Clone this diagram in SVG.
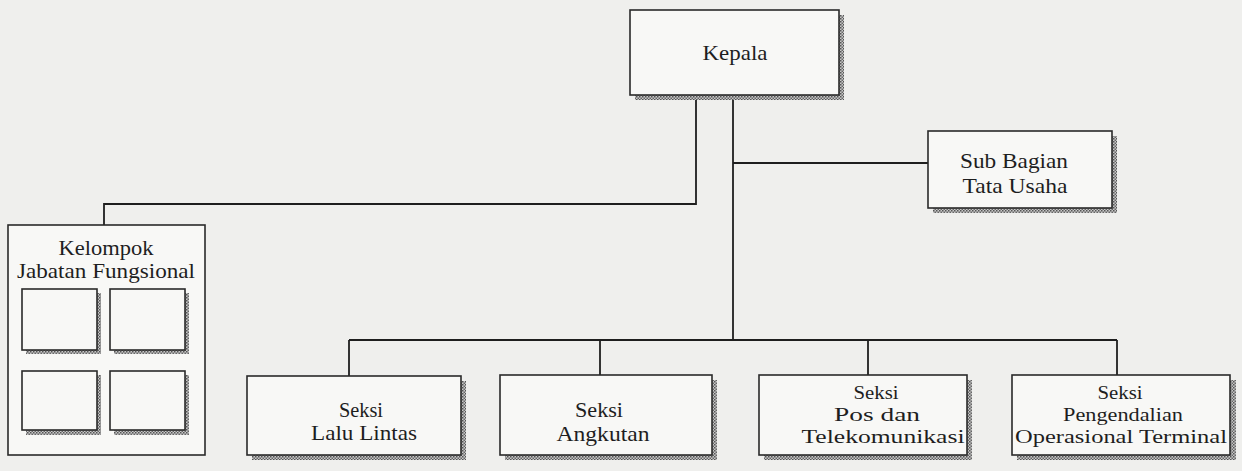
<svg xmlns="http://www.w3.org/2000/svg" width="1242" height="471" viewBox="0 0 1242 471">
<style>
.box{fill:#f8f8f6;stroke:#2a2a2a;stroke-width:1.6}
.sh{fill:url(#hatch)}
.t{font-family:"Liberation Serif","Times New Roman",serif;font-size:22px;fill:#1e1e1e;text-anchor:middle}
.t3{font-size:18px}
.c{fill:none;stroke:#1e1e1e;stroke-width:1.8}
</style>
<defs>
<pattern id="hatch" width="3" height="3" patternUnits="userSpaceOnUse">
<rect width="3" height="3" fill="#c8c8c8"/>
<rect width="1.5" height="1.5" fill="#555"/>
<rect x="1.5" y="1.5" width="1.5" height="1.5" fill="#666"/>
</pattern>
</defs>
<rect width="1242" height="471" fill="#efefed"/>

<g id="connectors">
<polyline class="c" points="696,95 696,204 104,204 104,225"/>
<line class="c" x1="733" y1="95" x2="733" y2="340"/>
<line class="c" x1="733" y1="163" x2="928" y2="163"/>
<line class="c" x1="349" y1="340" x2="1117" y2="340"/>
<line class="c" x1="349" y1="340" x2="349" y2="376"/>
<line class="c" x1="600" y1="340" x2="600" y2="375"/>
<line class="c" x1="868" y1="340" x2="868" y2="375"/>
<line class="c" x1="1117" y1="340" x2="1117" y2="375"/>
</g>

<g id="kepala">
<rect class="sh" x="635" y="15" width="209" height="85"/>
<rect class="box" x="630" y="10" width="209" height="85"/>
<text class="t" x="735" y="60" textLength="65" lengthAdjust="spacingAndGlyphs">Kepala</text>
</g>

<g id="sub-bagian">
<rect class="sh" x="933" y="136" width="184" height="77"/>
<rect class="box" x="928" y="131" width="184" height="77"/>
<text class="t" x="1014" y="168" textLength="108" lengthAdjust="spacingAndGlyphs">Sub Bagian</text>
<text class="t" x="1015" y="193" textLength="105" lengthAdjust="spacingAndGlyphs">Tata Usaha</text>
</g>

<g id="kelompok">
<rect class="box" x="8" y="225" width="197" height="230"/>
<text class="t" x="106" y="255" textLength="95" lengthAdjust="spacingAndGlyphs">Kelompok</text>
<text class="t" x="106" y="278" textLength="178" lengthAdjust="spacingAndGlyphs">Jabatan Fungsional</text>
<rect class="sh" x="26" y="293" width="75" height="61"/>
<rect class="box" x="22" y="289" width="75" height="61"/>
<rect class="sh" x="114" y="293" width="75" height="61"/>
<rect class="box" x="110" y="289" width="75" height="61"/>
<rect class="sh" x="26" y="375" width="75" height="60"/>
<rect class="box" x="22" y="371" width="75" height="59"/>
<rect class="sh" x="114" y="375" width="75" height="60"/>
<rect class="box" x="110" y="371" width="75" height="59"/>
</g>

<g id="seksi-lalu-lintas">
<rect class="sh" x="252" y="381" width="214" height="79"/>
<rect class="box" x="247" y="376" width="214" height="79"/>
<text class="t" x="361" y="417" textLength="44" lengthAdjust="spacingAndGlyphs">Seksi</text>
<text class="t" x="364" y="440" textLength="106" lengthAdjust="spacingAndGlyphs">Lalu Lintas</text>
</g>

<g id="seksi-angkutan">
<rect class="sh" x="505" y="380" width="212" height="80"/>
<rect class="box" x="500" y="375" width="212" height="80"/>
<text class="t" x="599" y="417" textLength="48" lengthAdjust="spacingAndGlyphs">Seksi</text>
<text class="t" x="603" y="441" textLength="93" lengthAdjust="spacingAndGlyphs">Angkutan</text>
</g>

<g id="seksi-pos">
<rect class="sh" x="764" y="380" width="208" height="80"/>
<rect class="box" x="759" y="375" width="208" height="80"/>
<text class="t t3" x="876" y="399" textLength="45" lengthAdjust="spacingAndGlyphs">Seksi</text>
<text class="t t3" x="877" y="421" textLength="86" lengthAdjust="spacingAndGlyphs">Pos dan</text>
<text class="t t3" x="883" y="443" textLength="163" lengthAdjust="spacingAndGlyphs">Telekomunikasi</text>
</g>

<g id="seksi-pengendalian">
<rect class="sh" x="1017" y="380" width="219" height="80"/>
<rect class="box" x="1012" y="375" width="218" height="80"/>
<text class="t t3" x="1120" y="399" textLength="45" lengthAdjust="spacingAndGlyphs">Seksi</text>
<text class="t t3" x="1123" y="421" textLength="120" lengthAdjust="spacingAndGlyphs">Pengendalian</text>
<text class="t t3" x="1121" y="443" textLength="212" lengthAdjust="spacingAndGlyphs">Operasional Terminal</text>
</g>
</svg>
